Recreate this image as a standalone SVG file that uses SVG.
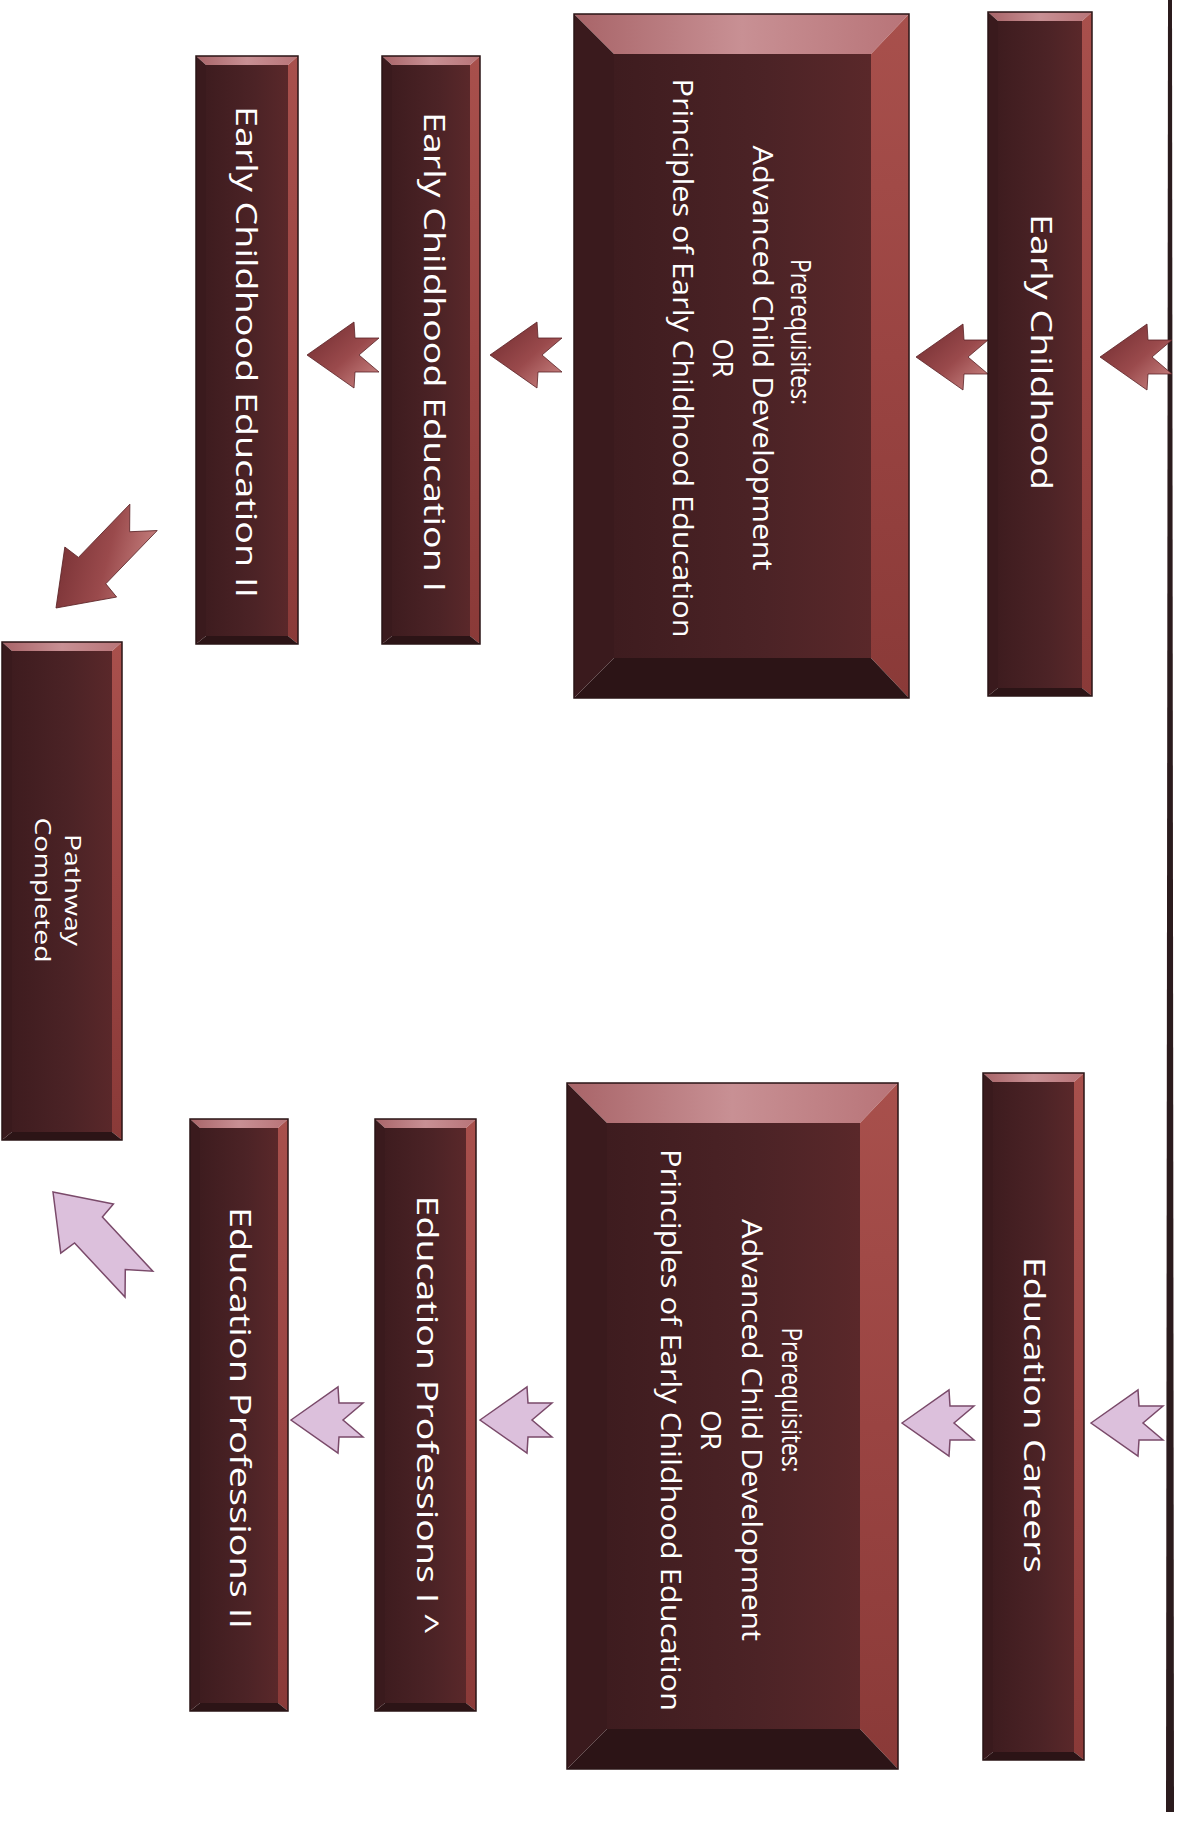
<svg xmlns="http://www.w3.org/2000/svg" xmlns:xlink="http://www.w3.org/1999/xlink" width="1180" height="1837" viewBox="0 0 1180 1837">
<style>
.bt{fill:url(#gTop)}
.br{fill:url(#gRight)}
.bb{fill:#2c1416}
.bl{fill:#3a1a1d}
.face{fill:url(#gFace)}
.edge{fill:none;stroke:#2a1416;stroke-width:1.5}
.t{font-family:"Open Sans","Liberation Sans",sans-serif;fill:#ffffff;text-anchor:middle}
.big{font-size:27px}
.hd{font-size:27px}
.mid{font-size:29px}
.sm{font-size:22px}
.am{fill:url(#gArrM);stroke:#5a2226;stroke-width:0.8}
.ap{fill:#dcc0dc;stroke:#7a4a6a;stroke-width:1.5}
</style>
<defs>
<linearGradient id="gTop" x1="0" y1="0" x2="1" y2="0">
<stop offset="0" stop-color="#a86468"/><stop offset="0.5" stop-color="#c89094"/><stop offset="1" stop-color="#b87478"/>
</linearGradient>
<linearGradient id="gRight" x1="0" y1="0" x2="0" y2="1">
<stop offset="0" stop-color="#a8504c"/><stop offset="0.5" stop-color="#9a4442"/><stop offset="1" stop-color="#8a3a38"/>
</linearGradient>
<linearGradient id="gFace" x1="0" y1="0" x2="1" y2="0">
<stop offset="0" stop-color="#3e1c1f"/><stop offset="0.6" stop-color="#4c2326"/><stop offset="1" stop-color="#5a282a"/>
</linearGradient>
<linearGradient id="gArrM" x1="0" y1="0" x2="1" y2="1">
<stop offset="0" stop-color="#6e2a2e"/><stop offset="0.55" stop-color="#9a4a4c"/><stop offset="1" stop-color="#d08c8a"/>
</linearGradient>
<path id="arr" d="M0,0 L47,-33 L48,-17 L72,-17 L52,0 L72,17 L48,17 L47,33 Z"/>
<path id="darr" d="M0,0 L50,-36 L52,-19 L126,-19 L106,0 L126,19 L52,19 L50,36 Z"/>
</defs>
<rect x="0" y="0" width="1180" height="1837" fill="#ffffff"/>
<polygon id="page-edge" points="1168,0 1172,0 1174,1812 1166,1812" fill="#2b1b1d"/>

<g id="connectors">
<use xlink:href="#arr" href="#arr" class="am" transform="translate(1100,357)"/>
<use xlink:href="#arr" href="#arr" class="am" transform="translate(916,357)"/>
<use xlink:href="#arr" href="#arr" class="am" transform="translate(490,355)"/>
<use xlink:href="#arr" href="#arr" class="am" transform="translate(307,355)"/>
<use xlink:href="#darr" href="#darr" class="am" transform="translate(56,608) rotate(-46)"/>
<use xlink:href="#arr" href="#arr" class="ap" transform="translate(1091,1423)"/>
<use xlink:href="#arr" href="#arr" class="ap" transform="translate(902,1423)"/>
<use xlink:href="#arr" href="#arr" class="ap" transform="translate(480,1420)"/>
<use xlink:href="#arr" href="#arr" class="ap" transform="translate(291,1420)"/>
<use xlink:href="#darr" href="#darr" class="ap" transform="translate(53,1192) rotate(47)"/>
</g>

<g id="early-childhood">
<rect class="face" x="998" y="21" width="84" height="667"/>
<polygon class="bt" points="988,12 1092,12 1082,21 998,21"/>
<polygon class="br" points="1092,12 1092,696 1082,688 1082,21"/>
<polygon class="bb" points="988,696 1092,696 1082,688 998,688"/>
<polygon class="bl" points="988,12 988,696 998,688 998,21"/>
<rect class="edge" x="988" y="12" width="104" height="684"/>
<text class="t mid" transform="translate(1041,352) rotate(90)" dy="0.35em" textLength="276" lengthAdjust="spacingAndGlyphs">Early Childhood</text>
</g>

<g id="prereq-1">
<rect class="face" x="614" y="54" width="257" height="604"/>
<polygon class="bt" points="574,14 909,14 871,54 614,54"/>
<polygon class="br" points="909,14 909,698 871,658 871,54"/>
<polygon class="bb" points="574,698 909,698 871,658 614,658"/>
<polygon class="bl" points="574,14 574,698 614,658 614,54"/>
<rect class="edge" x="574" y="14" width="335" height="684"/>
<g transform="translate(741,358) rotate(90)">
<text class="t hd" x="-26" y="-59" dy="0.35em" textLength="146" lengthAdjust="spacingAndGlyphs">Prerequisites:</text>
<text class="t big" x="0" y="-21" dy="0.35em" textLength="425" lengthAdjust="spacingAndGlyphs">Advanced Child Development</text>
<text class="t big" x="0" y="19" dy="0.35em" textLength="39" lengthAdjust="spacingAndGlyphs">OR</text>
<text class="t big" x="0" y="59" dy="0.35em" textLength="559" lengthAdjust="spacingAndGlyphs">Principles of Early Childhood Education</text>
</g>
</g>

<g id="ece-1">
<rect class="face" x="392" y="65" width="78" height="571"/>
<polygon class="bt" points="382,56 480,56 470,65 392,65"/>
<polygon class="br" points="480,56 480,644 470,636 470,65"/>
<polygon class="bb" points="382,644 480,644 470,636 392,636"/>
<polygon class="bl" points="382,56 382,644 392,636 392,65"/>
<rect class="edge" x="382" y="56" width="98" height="588"/>
<text class="t mid" transform="translate(434,352) rotate(90)" dy="0.35em" textLength="480" lengthAdjust="spacingAndGlyphs">Early Childhood Education I</text>
</g>

<g id="ece-2">
<rect class="face" x="206" y="65" width="82" height="571"/>
<polygon class="bt" points="196,56 298,56 288,65 206,65"/>
<polygon class="br" points="298,56 298,644 288,636 288,65"/>
<polygon class="bb" points="196,644 298,644 288,636 206,636"/>
<polygon class="bl" points="196,56 196,644 206,636 206,65"/>
<rect class="edge" x="196" y="56" width="102" height="588"/>
<text class="t mid" transform="translate(246,352) rotate(90)" dy="0.35em" textLength="492" lengthAdjust="spacingAndGlyphs">Early Childhood Education II</text>
</g>

<g id="pathway-completed">
<rect class="face" x="12" y="651" width="100" height="481"/>
<polygon class="bt" points="2,642 122,642 112,651 12,651"/>
<polygon class="br" points="122,642 122,1140 112,1132 112,651"/>
<polygon class="bb" points="2,1140 122,1140 112,1132 12,1132"/>
<polygon class="bl" points="2,642 2,1140 12,1132 12,651"/>
<rect class="edge" x="2" y="642" width="120" height="498"/>
<g transform="translate(58,890) rotate(90)">
<text class="t sm" x="0" y="-15" dy="0.35em" textLength="112" lengthAdjust="spacingAndGlyphs">Pathway</text>
<text class="t sm" x="0" y="15" dy="0.35em" textLength="145" lengthAdjust="spacingAndGlyphs">Completed</text>
</g>
</g>

<g id="education-careers">
<rect class="face" x="993" y="1082" width="81" height="670"/>
<polygon class="bt" points="983,1073 1084,1073 1074,1082 993,1082"/>
<polygon class="br" points="1084,1073 1084,1760 1074,1752 1074,1082"/>
<polygon class="bb" points="983,1760 1084,1760 1074,1752 993,1752"/>
<polygon class="bl" points="983,1073 983,1760 993,1752 993,1082"/>
<rect class="edge" x="983" y="1073" width="101" height="687"/>
<text class="t mid" transform="translate(1034,1415) rotate(90)" dy="0.35em" textLength="316" lengthAdjust="spacingAndGlyphs">Education Careers</text>
</g>

<g id="prereq-2">
<rect class="face" x="607" y="1123" width="253" height="606"/>
<polygon class="bt" points="567,1083 898,1083 860,1123 607,1123"/>
<polygon class="br" points="898,1083 898,1769 860,1729 860,1123"/>
<polygon class="bb" points="567,1769 898,1769 860,1729 607,1729"/>
<polygon class="bl" points="567,1083 567,1769 607,1729 607,1123"/>
<rect class="edge" x="567" y="1083" width="331" height="686"/>
<g transform="translate(731,1430) rotate(90)">
<text class="t hd" x="-30" y="-60" dy="0.35em" textLength="145" lengthAdjust="spacingAndGlyphs">Prerequisites:</text>
<text class="t big" x="0" y="-20" dy="0.35em" textLength="422" lengthAdjust="spacingAndGlyphs">Advanced Child Development</text>
<text class="t big" x="0" y="21" dy="0.35em" textLength="40" lengthAdjust="spacingAndGlyphs">OR</text>
<text class="t big" x="0" y="61" dy="0.35em" textLength="562" lengthAdjust="spacingAndGlyphs">Principles of Early Childhood Education</text>
</g>
</g>

<g id="education-professions-1">
<rect class="face" x="385" y="1128" width="81" height="575"/>
<polygon class="bt" points="375,1119 476,1119 466,1128 385,1128"/>
<polygon class="br" points="476,1119 476,1711 466,1703 466,1128"/>
<polygon class="bb" points="375,1711 476,1711 466,1703 385,1703"/>
<polygon class="bl" points="375,1119 375,1711 385,1703 385,1128"/>
<rect class="edge" x="375" y="1119" width="101" height="592"/>
<text class="t mid" transform="translate(427,1415) rotate(90)" dy="0.35em" textLength="439" lengthAdjust="spacingAndGlyphs">Education Professions I ^</text>
</g>

<g id="education-professions-2">
<rect class="face" x="200" y="1128" width="78" height="575"/>
<polygon class="bt" points="190,1119 288,1119 278,1128 200,1128"/>
<polygon class="br" points="288,1119 288,1711 278,1703 278,1128"/>
<polygon class="bb" points="190,1711 288,1711 278,1703 200,1703"/>
<polygon class="bl" points="190,1119 190,1711 200,1703 200,1128"/>
<rect class="edge" x="190" y="1119" width="98" height="592"/>
<text class="t mid" transform="translate(240,1418) rotate(90)" dy="0.35em" textLength="422" lengthAdjust="spacingAndGlyphs">Education Professions II</text>
</g>
</svg>
